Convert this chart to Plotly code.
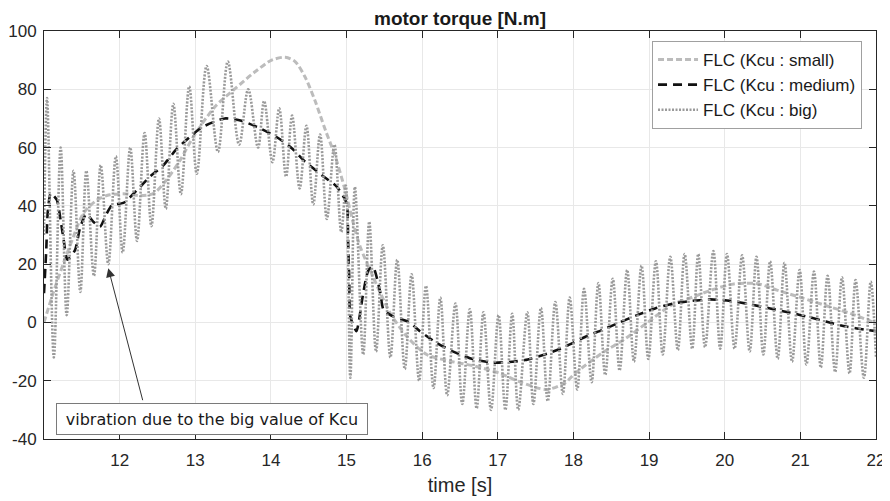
import plotly.graph_objects as go

# ---------------- data ----------------
small_t = [11.00, 11.12, 11.26, 11.39, 11.52, 11.70, 11.87, 12.09, 12.27, 12.45, 12.62, 12.80,
           12.97, 13.26, 13.53, 13.79, 14.01, 14.19, 14.32, 14.45, 14.58, 14.72, 14.85, 14.98,
           15.09, 15.18, 15.35, 15.58, 15.80, 16.06, 16.37, 16.70, 17.03, 17.30, 17.65, 17.90,
           18.02, 18.38, 18.69, 18.99, 19.30, 19.61, 19.81, 20.12, 20.43, 20.69, 21.00, 21.31,
           21.66, 22.00]
small_v = [0.0, 10.0, 20.5, 29.5, 37.4, 42.0, 43.8, 44.1, 43.5, 44.3, 48.9, 55.7,
           63.5, 74.0, 80.3, 86.0, 90.0, 91.0, 89.5, 84.3, 76.3, 66.0, 57.0, 45.5,
           34.0, 26.0, 15.7, 3.1, -4.9, -11.0, -13.3, -15.0, -17.5, -20.5, -23.0, -20.5,
           -17.5, -10.5, -5.5, 0.2, 6.0, 9.0, 11.0, 13.2, 13.3, 11.1, 8.6, 6.0,
           3.1, -0.3]

medium_t = [11.00, 11.03, 11.05, 11.09, 11.17, 11.22, 11.26, 11.31, 11.41, 11.48, 11.56, 11.65,
            11.74, 11.83, 11.90, 12.05, 12.23, 12.40, 12.58, 12.76, 12.93, 13.09, 13.39, 13.61,
            13.88, 14.10, 14.28, 14.45, 14.67, 14.87, 15.00, 15.02, 15.035, 15.05, 15.13, 15.22,
            15.29, 15.35, 15.44, 15.49, 15.62, 15.82, 15.97, 16.19, 16.41, 16.68, 16.94, 17.19,
            17.36, 17.67, 17.89, 18.16, 18.38, 18.60, 18.84, 19.08, 19.32, 19.57, 19.81, 20.07,
            20.34, 20.60, 20.87, 21.09, 21.35, 21.62, 21.88, 22.00]
medium_v = [10.0, 25.0, 38.0, 44.3, 42.0, 35.0, 28.3, 21.5, 24.8, 32.8, 37.2, 34.6,
            32.8, 37.4, 40.3, 41.0, 45.4, 50.0, 54.0, 59.7, 63.7, 67.0, 70.0, 69.2,
            66.3, 63.2, 59.7, 55.2, 50.6, 46.6, 41.0, 28.0, 15.7, 2.0, -3.0, 10.0,
            18.0, 19.1, 11.0, 4.3, 2.0, 0.2, -3.0, -7.0, -10.0, -12.7, -13.8, -13.5,
            -12.9, -10.6, -8.3, -4.9, -2.6, -0.1, 2.5, 4.8, 6.5, 7.4, 7.9, 7.4,
            6.2, 4.8, 3.3, 2.0, 0.2, -1.5, -2.6, -3.0]

big_t = [11.00, 11.04, 11.13, 11.22, 11.30, 11.39, 11.48, 11.56, 11.66, 11.75, 11.85, 11.95,
         12.04, 12.14, 12.23, 12.33, 12.42, 12.52, 12.61, 12.71, 12.81, 12.92, 13.02, 13.15,
         13.30, 13.43, 13.58, 13.70, 13.83, 13.91, 14.02, 14.11, 14.20, 14.28, 14.38, 14.47,
         14.56, 14.65, 14.74, 14.84, 14.93, 14.99, 15.05, 15.11, 15.22, 15.30, 15.39, 15.48,
         15.58, 15.67, 15.77, 15.86, 15.96, 16.05, 16.15, 16.24, 16.33, 16.44, 16.53, 16.63,
         16.72, 16.81, 16.91, 17.01, 17.10, 17.19, 17.27, 17.39, 17.47, 17.57, 17.66, 17.76,
         17.86, 17.95, 18.05, 18.14, 18.24, 18.33, 18.42, 18.52, 18.61, 18.71, 18.80, 18.90,
         18.99, 19.09, 19.18, 19.28, 19.38, 19.47, 19.57, 19.65, 19.74, 19.85, 19.94, 20.03,
         20.13, 20.23, 20.33, 20.42, 20.51, 20.60, 20.70, 20.79, 20.89, 20.99, 21.08, 21.18,
         21.27, 21.36, 21.46, 21.55, 21.65, 21.73, 21.84, 21.93, 22.00]
big_v = [30.0, 77.0, -12.0, 60.0, 2.5, 52.0, 10.5, 52.0, 16.0, 54.0, 20.0, 57.0,
         24.0, 60.0, 28.0, 65.0, 33.0, 70.0, 39.0, 75.0, 44.0, 81.0, 51.0, 88.0,
         58.5, 89.5, 61.0, 80.0, 60.0, 76.0, 55.0, 73.5, 50.0, 71.0, 46.0, 67.5,
         40.5, 64.5, 35.5, 61.0, 31.0, 47.0, -19.0, 46.5, -11.0, 34.5, -10.0, 26.5,
         -12.0, 21.5, -16.0, 16.5, -20.0, 12.5, -22.5, 8.5, -25.0, 6.5, -28.0, 4.5,
         -29.5, 3.5, -30.0, 2.5, -30.0, 3.0, -30.0, 3.5, -28.0, 5.0, -27.0, 7.0,
         -24.5, 8.5, -23.0, 11.5, -20.5, 13.5, -18.0, 15.0, -16.5, 18.0, -13.5, 19.5,
         -12.5, 21.0, -11.0, 22.5, -9.5, 23.5, -9.0, 23.5, -8.5, 24.5, -9.0, 23.5,
         -9.0, 23.0, -10.0, 22.5, -11.0, 21.0, -12.5, 20.5, -13.5, 18.0, -14.5, 17.5,
         -15.5, 16.0, -17.0, 15.5, -17.5, 14.5, -19.0, 14.0, -12.0]

series_names = ["FLC (Kcu : small)", "FLC (Kcu : medium)", "FLC (Kcu : big)"]
x_ticks = [12, 13, 14, 15, 16, 17, 18, 19, 20, 21, 22]
y_ticks = [-40, -20, 0, 20, 40, 60, 80, 100]
y_ticktext = ["-40", "-20", "0", "20", "40", "60", "80", "100"]
title_text = "motor torque [N.m]"
x_title = "time [s]"
note_text = "vibration due to the big value of Kcu"

FONT = "Liberation Sans, Arial, sans-serif"

fig = go.Figure()
fig.add_trace(go.Scatter(x=small_t, y=small_v, mode="lines", name=series_names[0],
                         line=dict(color="#bcbcbc", width=3, dash="6px,3px", shape="spline", smoothing=0.8)))
fig.add_trace(go.Scatter(x=medium_t, y=medium_v, mode="lines", name=series_names[1],
                         line=dict(color="#111111", width=2.6, dash="9px,6px", shape="spline", smoothing=0.6)))
fig.add_trace(go.Scatter(x=big_t, y=big_v, mode="lines", name=series_names[2],
                         line=dict(color="#9a9a9a", width=2.6, dash="2px,1.5px", shape="spline", smoothing=1)))

axis_common = dict(showline=True, linecolor="#262626", linewidth=1, mirror="ticks",
                   ticks="inside", ticklen=7, tickcolor="#262626", tickwidth=1,
                   showgrid=True, gridcolor="#e8e8e8", gridwidth=1, zeroline=False,
                   automargin=False,
                   tickfont=dict(family=FONT, size=17, color="#262626"))

# the page adds an 8px body margin, so the figure is sized/placed to compensate
fig.update_layout(
    width=882, height=493, autosize=False,
    margin=dict(l=36, r=14, t=23, b=62),
    paper_bgcolor="white", plot_bgcolor="white",
    title=dict(text="<b>" + title_text + "</b>", x=0.5125, xanchor="center", y=0.9797, yanchor="middle",
               yref="container", font=dict(family=FONT, size=19, color="#1a1a1a")),
    xaxis=dict(range=[11, 22], tickvals=x_ticks, ticklabelstandoff=6, **axis_common,
               title=dict(text=x_title, standoff=8, font=dict(family=FONT, size=20, color="#262626"))),
    yaxis=dict(range=[-40, 100], tickvals=y_ticks, ticktext=y_ticktext, ticklabelstandoff=3, **axis_common),
    legend=dict(x=0.9832, xanchor="right", y=0.9755, yanchor="top", bgcolor="white",
                bordercolor="#a0a0a0", borderwidth=1, itemwidth=40,
                font=dict(family=FONT, size=17, color="#1a1a1a")),
    showlegend=True,
)

# text box annotation
fig.add_annotation(x=13.222, y=-33.15, xref="x", yref="y", text=note_text, showarrow=False,
                   xanchor="center", yanchor="middle", width=308, height=28, borderpad=1,
                   bgcolor="white", bordercolor="#7a7a7a", borderwidth=1,
                   font=dict(family="DejaVu Sans", size=16, color="#1a1a1a"))
# arrow
fig.add_annotation(x=11.85, y=18.6, xref="x", yref="y", ax=12.31, ay=-27.2, axref="x", ayref="y",
                   text="", showarrow=True, arrowhead=2, arrowsize=1.8, arrowwidth=1,
                   arrowcolor="#333333", standoff=0, startstandoff=0)

fig.write_html("out.html")
